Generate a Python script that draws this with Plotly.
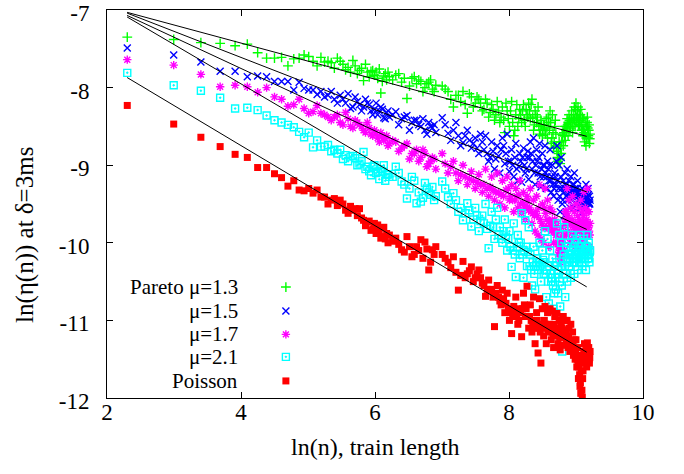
import numpy as np
import plotly.graph_objects as go

# Train lengths n (x axis shows ln(n)); N2 / N3 hold the in-between lengths
N = (list(range(10, 201, 10)) + list(range(220, 501, 20)) +
     list(range(550, 1001, 50)) + list(range(1100, 10001, 100)))
N2 = list(range(1150, 10000, 100))
N3 = list(range(210, 500, 20)) + list(range(525, 1000, 50))

P13 = [-7.35, -7.38, -7.42, -7.43, -7.46, -7.44, -7.55, -7.62, -7.62, -7.61,
       -7.72, -7.63, -7.62, -7.58, -7.60, -7.66, -7.72, -7.61, -7.67, -7.66,
       -7.75, -7.66, -7.77, -7.80, -7.72, -7.78, -7.91, -7.80, -7.79, -7.84,
       -7.88, -8.07, -7.85, -7.90, -7.86,
       -7.84, -7.93, -8.14, -7.88, -7.95, -7.92, -8.00, -7.93, -8.02, -7.97,
       -7.98, -8.05, -8.25, -8.10, -8.05, -8.33, -8.12, -8.20, -8.15, -8.30,
       -8.15, -8.38, -8.22, -8.42, -8.18, -8.45, -8.25, -8.58, -8.30, -8.50,
       -8.18, -8.62, -8.35, -8.50, -8.28, -8.45, -8.22, -8.50, -8.35, -8.20,
       -8.40, -8.15, -8.55, -8.30, -8.45, -8.25, -8.60, -8.42, -8.62, -8.48,
       -8.55, -8.40, -8.65, -8.45, -8.30, -8.72, -8.35, -8.78, -8.50, -8.60,
       -8.82, -8.95, -8.70, -8.98, -8.85, -8.60, -8.75, -8.50, -8.68, -8.55,
       -8.40, -8.62, -8.35, -8.55, -8.45, -8.30, -8.58, -8.40, -8.25, -8.50,
       -8.20, -8.45, -8.30, -8.48, -8.35, -8.42, -8.28, -8.55, -8.38, -8.62,
       -8.40, -8.70, -8.45, -8.75, -8.50, -8.38, -8.65, -8.55, -8.72, -8.60]
Q13 = [-8.02, -8.15, -8.10, -8.18, -8.22, -8.08, -8.25, -8.12, -8.20,
       -8.28, -8.20, -8.32, -8.28, -8.35, -8.30, -8.38, -8.42, -8.20, -8.40,
       -8.30, -8.45, -8.55, -8.22, -8.40, -8.35, -8.30, -8.42, -8.28, -8.38,
       -8.30, -8.22, -8.38, -8.48, -8.35, -8.38, -8.50, -8.55, -8.48, -8.55,
       -8.48, -8.60, -8.52, -8.38, -8.55, -8.45, -8.65, -8.58, -8.70, -8.42,
       -8.75, -8.90, -8.85, -8.92, -8.78, -8.70, -8.62, -8.58, -8.62, -8.50,
       -8.52, -8.48, -8.45, -8.42, -8.52, -8.38, -8.45, -8.50, -8.35, -8.42,
       -8.28, -8.38, -8.40, -8.25, -8.42, -8.48, -8.35, -8.48, -8.50, -8.55,
       -8.55, -8.58, -8.62, -8.60, -8.65, -8.45, -8.52, -8.62, -8.48, -8.66]
R13 = [-7.68, -7.62, -7.70, -7.74, -7.65, -7.82, -7.75, -7.70, -7.86, -7.78,
       -7.80, -7.76, -7.92, -7.82, -7.80,
       -7.90, -7.82, -7.88, -7.98, -7.86, -7.90, -8.05, -7.95, -7.90, -8.05]

P15 = [-7.49, -7.58, -7.67, -7.79, -7.79, -7.86, -7.85, -7.86, -7.92, -7.92,
       -7.92, -8.03, -7.93, -8.01, -8.03, -8.03, -8.09, -8.05, -8.12, -8.10,
       -8.15, -8.10, -8.20, -8.27, -8.12, -8.22, -8.25, -8.20, -8.30, -8.28,
       -8.35, -8.25, -8.39, -8.32, -8.38,
       -8.31, -8.40, -8.36, -8.45, -8.42, -8.50, -8.55, -8.45, -8.52, -8.58,
       -8.39, -8.59, -8.55, -8.62, -8.71, -8.55, -8.78, -8.65, -8.85, -8.70,
       -8.62, -8.95, -8.70, -9.05, -8.75, -9.10, -8.65, -8.98, -8.60, -9.08,
       -8.80, -9.15, -8.72, -9.20, -8.85, -9.22, -8.78, -9.10, -8.90, -9.18,
       -8.70, -9.05, -8.65, -9.25, -8.80, -9.10, -8.72, -9.28, -8.85, -9.15,
       -8.75, -9.30, -8.95, -9.20, -8.80, -9.35, -9.00, -9.40, -9.10, -9.25,
       -8.75, -9.45, -9.00, -9.60, -8.90, -9.50, -9.20, -9.65, -9.10, -9.40,
       -9.05, -9.45, -9.20, -9.55, -9.15, -9.45, -9.25, -9.55, -9.10, -9.38,
       -9.30, -9.50, -9.20, -9.45, -9.35, -9.55, -9.40, -9.62, -9.30, -9.50,
       -9.35, -9.58, -9.45, -9.25, -9.48, -9.55, -9.30, -9.50, -9.40, -9.45]
Q15 = [-8.48, -8.68, -8.45, -8.75, -8.62, -8.68, -8.72, -8.78, -8.60,
       -8.80, -8.85, -8.90, -8.82, -8.92, -8.88, -8.80, -8.75, -8.85, -8.95,
       -8.95, -9.00, -8.90, -9.05, -9.02, -8.95, -8.90, -9.00, -9.05, -8.82,
       -8.90, -8.85, -8.95, -9.10, -9.00, -8.95, -8.90, -9.15, -9.05, -9.00,
       -9.00, -9.10, -9.15, -9.05, -9.00, -9.20, -9.15, -9.25, -9.30, -9.15,
       -8.95, -9.20, -9.30, -9.40, -9.15, -9.30, -9.45, -9.35, -9.25, -9.30,
       -9.25, -9.30, -9.38, -9.35, -9.30, -9.30, -9.40, -9.35, -9.25, -9.30,
       -9.40, -9.35, -9.30, -9.40, -9.45, -9.45, -9.50, -9.48, -9.40, -9.42,
       -9.45, -9.40, -9.35, -9.38, -9.42, -9.40, -9.42, -9.38, -9.48, -9.50]
R15 = [-8.05, -8.20, -8.15, -8.08, -8.25, -8.18, -8.30, -8.15, -8.22, -8.35,
       -8.20, -8.30, -8.28, -8.40, -8.30,
       -8.35, -8.48, -8.38, -8.55, -8.42, -8.48, -8.40, -8.60, -8.50, -8.48]

P17 = [-7.64, -7.71, -7.83, -7.99, -7.97, -7.99, -8.06, -8.00, -8.12, -8.15,
       -8.24, -8.22, -8.15, -8.27, -8.33, -8.31, -8.23, -8.33, -8.35, -8.38,
       -8.38, -8.45, -8.32, -8.50, -8.42, -8.48, -8.55, -8.45, -8.60, -8.55,
       -8.65, -8.58, -8.68, -8.62, -8.72,
       -8.70, -8.78, -8.72, -8.85, -8.80, -8.90, -8.85, -8.98, -8.90, -9.05,
       -8.85, -9.10, -8.95, -9.20, -9.00, -9.25, -9.08, -9.30, -9.12, -9.35,
       -9.05, -9.40, -9.15, -9.45, -9.10, -9.50, -9.20, -9.55, -9.15, -9.45,
       -9.25, -9.60, -9.30, -9.55, -9.20, -9.62, -9.35, -9.70, -9.40, -9.58,
       -9.30, -9.75, -9.45, -9.85, -9.40, -9.90, -9.25, -9.95, -9.50, -10.00,
       -9.30, -9.80, -9.45, -10.05, -9.55, -9.85, -9.60, -10.00, -9.70, -9.90,
       -9.75, -10.15, -9.85, -10.25, -9.95, -10.20, -9.80, -10.10, -9.60, -9.90,
       -9.30, -9.85, -9.45, -10.00, -9.55, -9.95, -9.40, -9.90, -9.60, -10.05,
       -9.50, -9.95, -9.65, -10.05, -9.55, -9.85, -9.45, -10.00, -9.60, -9.90,
       -9.35, -9.95, -9.55, -10.10, -9.70, -9.30, -9.90, -9.60, -10.05, -9.75]
Q17 = [-8.98, -9.02, -9.10, -9.12, -9.15, -9.18, -9.20, -9.22, -9.25,
       -9.25, -9.30, -9.28, -9.32, -9.35, -9.35, -9.38, -9.40, -9.32, -9.30,
       -9.40, -9.45, -9.45, -9.40, -9.38, -9.50, -9.48, -9.55, -9.52, -9.45,
       -9.55, -9.60, -9.62, -9.65, -9.60, -9.65, -9.55, -9.70, -9.75, -9.80,
       -9.55, -9.62, -9.70, -9.80, -9.72, -9.72, -9.78, -9.82, -9.85, -9.80,
       -9.90, -10.00, -10.05, -10.10, -10.05, -10.00, -9.95, -9.90, -9.75, -9.70,
       -9.60, -9.65, -9.70, -9.75, -9.72, -9.75, -9.70, -9.75, -9.80, -9.85,
       -9.75, -9.80, -9.85, -9.80, -9.75, -9.70, -9.75, -9.80, -9.75, -9.72,
       -9.65, -9.75, -9.80, -9.85, -9.90, -9.60, -9.75, -9.80, -9.85, -9.90]
R17 = [-8.42, -8.35, -8.48, -8.40, -8.52, -8.45, -8.50, -8.58, -8.52, -8.62,
       -8.58, -8.70, -8.62, -8.66, -8.75,
       -8.68, -8.82, -8.75, -8.92, -8.85, -8.95, -8.80, -9.02, -8.95, -8.92]

P21 = [-7.81, -7.97, -8.04, -8.13, -8.27, -8.26, -8.29, -8.36, -8.42, -8.45,
       -8.48, -8.51, -8.57, -8.64, -8.58, -8.77, -8.68, -8.76, -8.76, -8.74,
       -8.80, -8.80, -8.87, -8.89, -8.91, -8.98, -8.83, -9.02, -9.13, -9.00,
       -9.08, -9.05, -9.00, -9.12, -9.15,
       -9.02, -9.21, -9.43, -9.15, -9.49, -9.47, -9.23, -9.35, -9.28, -9.40,
       -9.21, -9.41, -9.36, -9.60, -9.71, -9.49, -9.79, -9.55, -9.85, -9.65,
       -9.50, -10.07, -9.60, -9.95, -9.55, -9.80, -10.00, -9.70, -10.10, -9.85,
       -10.31, -9.75, -10.44, -9.90, -10.20, -9.62, -10.45, -9.71, -10.30, -9.80,
       -10.15, -10.55, -10.05, -10.60, -10.20, -10.35, -10.00, -10.50, -10.10, -10.40,
       -9.85, -10.70, -9.95, -10.78, -10.10, -10.50, -10.20, -10.85, -10.30, -10.60,
       -9.75, -10.65, -9.90, -10.82, -10.00, -11.40, -10.40, -9.80, -10.70, -10.05,
       -10.50, -10.00, -10.30, -10.15, -10.45, -9.90, -10.25, -10.05, -10.40, -10.00,
       -10.20, -9.95, -10.35, -10.10, -10.25, -9.90, -10.20, -10.00, -10.30, -10.10,
       -9.95, -10.25, -10.05, -10.35, -10.15, -9.90, -10.20, -10.00, -10.25, -10.10]
Q21 = [-9.30, -9.50, -9.45, -9.55, -9.62, -9.58, -9.70, -9.65, -9.72,
       -9.75, -9.82, -9.78, -9.80, -9.70, -9.90, -9.95, -9.85, -9.92, -9.95,
       -10.05, -10.10, -10.15, -10.05, -10.00, -10.00, -10.15, -10.10, -10.05, -10.12,
       -10.30, -10.35, -10.25, -10.40, -10.30, -10.20, -10.25, -10.30, -10.28, -10.22,
       -10.25, -10.40, -10.35, -10.50, -10.30, -10.40, -10.45, -10.55, -10.65, -10.45,
       -10.25, -10.40, -10.35, -10.50, -10.30, -10.55, -10.20, -10.15, -10.30, -10.40,
       -10.20, -10.25, -10.15, -10.30, -10.20, -10.10, -10.15, -10.20, -10.25, -10.15,
       -10.10, -10.15, -10.20, -10.05, -10.15, -10.05, -10.10, -10.15, -10.20, -10.15,
       -10.10, -10.15, -10.20, -10.10, -10.05, -10.05, -10.10, -10.15, -10.20, -10.12]
R21 = [-8.82, -8.85, -8.92, -8.95, -8.88, -9.00, -8.95, -9.05, -9.08, -9.02,
       -9.10, -9.18, -9.08, -9.20, -9.12,
       -9.15, -9.10, -9.25, -9.30, -9.20, -9.35, -9.42, -9.30, -9.38, -9.45]

POISSON = [-8.23, -8.47, -8.64, -8.76, -8.86, -8.90, -9.03, -9.03, -9.11, -9.16,
           -9.27, -9.20, -9.32, -9.33, -9.30, -9.36, -9.32, -9.41, -9.41, -9.50,
           -9.43, -9.45, -9.58, -9.53, -9.56, -9.56, -9.71, -9.73, -9.84, -9.75,
           -9.77, -9.94, -9.80, -9.88, -9.90,
           -9.94, -10.09, -9.92, -10.18, -10.05, -9.96, -9.99, -10.35, -10.09, -10.05,
           -10.15, -10.25, -10.18, -10.61, -10.24, -10.40, -10.31, -10.45, -10.35, -10.52,
           -10.69, -10.48, -10.60, -11.08, -10.55, -10.75, -10.61, -10.90, -10.65, -11.00,
           -11.17, -10.82, -10.70, -11.05, -10.85, -11.21, -10.65, -10.95, -10.56, -11.10,
           -10.80, -11.15, -10.70, -11.30, -10.90, -11.42, -10.72, -11.55, -10.85, -11.20,
           -10.82, -11.30, -10.90, -11.10, -10.85, -11.25, -10.88, -11.35, -10.95, -11.15,
           -10.91, -11.30, -11.00, -11.38, -11.05, -11.20, -10.95, -11.32, -11.00, -11.25,
           -11.00, -11.35, -11.10, -11.40, -11.05, -11.30, -11.15, -11.45, -11.25, -11.50,
           -11.25, -11.60, -11.35, -11.75, -11.45, -11.85, -11.94, -11.55, -11.99, -11.65,
           -11.40, -11.30, -11.55, -11.35, -11.60, -11.29, -11.45, -11.35, -11.55, -11.40]
QPOISSON = [-10.20, -10.32, -10.38, -10.42, -10.45, -10.36, -10.50, -10.40, -10.45,
            -10.55, -10.60, -10.62, -10.70, -10.65, -10.70, -10.80, -10.72, -10.78, -10.85,
            -10.90, -10.95, -10.88, -10.95, -11.00, -10.90, -10.85, -10.80, -10.85, -10.95,
            -10.95, -11.00, -11.05, -11.10, -11.05, -11.00, -11.10, -11.15, -11.05, -11.10,
            -11.00, -11.05, -11.10, -11.15, -11.05, -11.10, -11.15, -11.20, -11.05, -11.10,
            -11.15, -11.10, -11.20, -11.22, -11.18, -11.10, -11.15, -11.12, -11.20, -11.18,
            -11.20, -11.25, -11.22, -11.30, -11.28, -11.35, -11.38, -11.30, -11.40, -11.42,
            -11.40, -11.45, -11.50, -11.55, -11.60, -11.70, -11.80, -11.65, -11.90, -11.75,
            -11.50, -11.45, -11.50, -11.45, -11.52, -11.35, -11.40, -11.45, -11.50, -11.48]
RPOISSON = [-9.45, -9.52, -9.50, -9.62, -9.58, -9.65, -9.68, -9.78, -9.72, -9.82,
            -9.88, -9.85, -9.92, -9.95, -10.00,
            -9.98, -10.02, -10.12, -10.05, -10.15, -10.10, -10.20, -10.08, -10.25, -10.15]

LABELS = ["Pareto \u03bc=1.3", "\u03bc=1.5", "\u03bc=1.7", "\u03bc=2.1", "Poisson"]
SERIES = [P13, P15, P17, P21, POISSON]
SERIES2 = [Q13, Q15, Q17, Q21, QPOISSON]
SERIES3 = [R13, R15, R17, R21, RPOISSON]
# fitted lines: value at ln(n)=2.30 and slope, drawn over ln(n) in [2.30, 9.16]
FIT_X = [2.30, 9.16]
FIT_Y0 = [-7.03, -7.04, -7.07, -7.09, -7.87]
FIT_SLOPE = [-0.233, -0.336, -0.402, -0.507, -0.516]

COLORS = ["#00ff00", "#0000ff", "#ff00ff", "#00ffff", "#ff0000"]
SYMBOLS = ["cross-thin-open", "x-thin-open", "asterisk-open", "square-open-dot", "square"]
SIZES = [7, 7, 7, 7, 7]

FONT = "Liberation Serif"


def marker(c, s, sz):
    filled = s == "square"
    return dict(symbol=s, size=sz, color=c,
                line=dict(color=c, width=0 if filled else 1.4))


fig = go.Figure()
for ys, ys2, ys3, c, s, sz in zip(SERIES, SERIES2, SERIES3, COLORS, SYMBOLS, SIZES):
    assert len(ys) == len(N) and len(ys2) == len(N2) and len(ys3) == len(N3)
    xs = np.log(np.array(N + N2 + N3, dtype=float))
    fig.add_trace(go.Scatter(x=xs, y=ys + ys2 + ys3, mode="markers", showlegend=False,
                             marker=marker(c, s, sz)))

for y0, b in zip(FIT_Y0, FIT_SLOPE):
    fx = np.array(FIT_X)
    fig.add_trace(go.Scatter(x=fx, y=y0 + b * (fx - FIT_X[0]), mode="lines",
                             showlegend=False, line=dict(color="black", width=1)))

# legend (gnuplot style: right-aligned text, key symbol on the right)
KEY_X = 4.67
TEXT_X = 3.98
KEY_Y = [-10.57, -10.88, -11.18, -11.47, -11.78]
annotations = []
for lab, c, s, sz, ky in zip(LABELS, COLORS, SYMBOLS, SIZES, KEY_Y):
    fig.add_trace(go.Scatter(x=[KEY_X], y=[ky], mode="markers", showlegend=False,
                             marker=marker(c, s, sz)))
    annotations.append(dict(x=TEXT_X, y=ky, xref="x", yref="y", text=lab,
                            showarrow=False, xanchor="right", yanchor="middle",
                            font=dict(family=FONT, size=21, color="black")))

annotations.append(dict(x=0.5, y=0, xref="paper", yref="paper", yshift=-49,
                        text="ln(n), train length", showarrow=False,
                        xanchor="center", yanchor="middle",
                        font=dict(family=FONT, size=24, color="black")))
annotations.append(dict(x=0, y=0.42, xref="paper", yref="paper", xshift=-82,
                        text="ln(\u03b7(n)) at \u03b4=3ms", showarrow=False,
                        textangle=-90, xanchor="center", yanchor="middle",
                        font=dict(family=FONT, size=25, color="black")))

axis_common = dict(showline=True, linecolor="black", linewidth=1, mirror="ticks",
                   ticks="inside", ticklen=6, tickcolor="black", showgrid=False,
                   zeroline=False, ticklabeloverflow="allow",
                   tickfont=dict(family=FONT, size=23, color="black"))
YT = [-12, -11, -10, -9, -8, -7]
fig.update_layout(
    width=684, height=474, margin=dict(l=107, r=41, t=10, b=76, autoexpand=False),
    paper_bgcolor="white", plot_bgcolor="white",
    xaxis=dict(range=[2, 10], tickvals=[2, 4, 6, 8, 10], ticklabelstandoff=-7, **axis_common),
    yaxis=dict(range=[-12, -7], tickvals=YT, ticktext=[str(v) for v in YT],
               ticklabelstandoff=12, ticklabelshift=3, **axis_common),
    annotations=annotations,
)
# remove the default 8px page margin so the figure sits at the window's corner
fig.write_html("out.html", config={"displayModeBar": False},
               post_script="document.body.style.margin='0px';")
